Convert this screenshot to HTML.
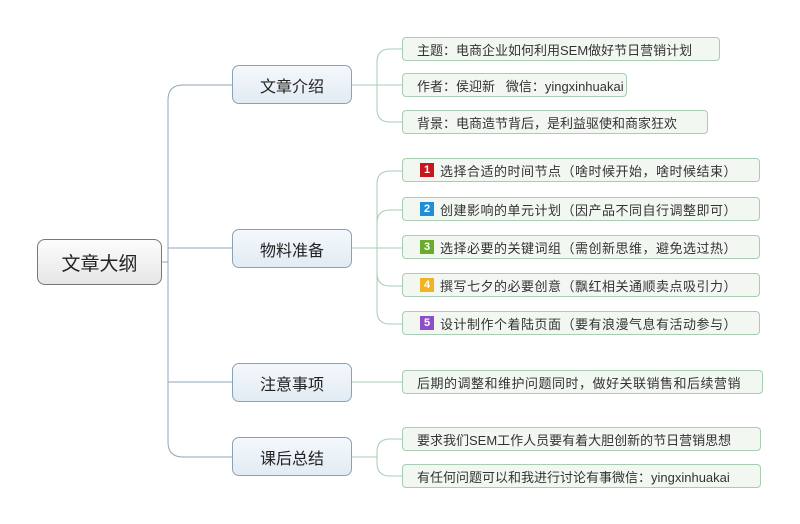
<!DOCTYPE html>
<html><head><meta charset="utf-8"><style>
body{margin:0;width:800px;height:524px;background:#fff;position:relative;overflow:hidden;font-family:"Liberation Sans","Noto Sans CJK SC",sans-serif;}
.b{position:absolute;box-sizing:border-box;display:flex;align-items:center;white-space:nowrap;}
.root{left:37px;top:239px;width:125px;height:46px;border:1px solid #777;border-radius:8px;background:linear-gradient(#fdfdfd,#e6e6e6);justify-content:center;font-size:19px;color:#222;}
.l1{left:232px;width:120px;height:39px;border:1px solid #8aa2b8;border-radius:7px;background:linear-gradient(#f4f8fc,#e2ebf3);justify-content:center;font-size:16px;color:#222;}
.lf{left:402px;height:24px;border:1px solid #a9cdb2;border-radius:4px;background:#f2f7f2;padding-left:14px;font-size:13px;color:#333;}
.w{letter-spacing:0.5px;}
.n{display:inline-block;width:14px;height:14px;color:#fff;font-size:11px;font-weight:bold;text-align:center;line-height:14px;margin-right:6px;margin-left:3px;letter-spacing:0;}
</style></head><body>
<svg width="800" height="524" style="position:absolute;left:0;top:0" fill="none" stroke="#8fa6b8" stroke-width="1">
<path d="M162 262 H168"/>
<path d="M232 85 H183 Q168 85 168 100 V442 Q168 457 183 457 H232"/>
<path d="M168 248 H232"/>
<path d="M168 382 H232"/>
<g stroke="#a9cdb2">
<path d="M352 85 H377"/>
<path d="M402 49 H390 Q377 49 377 62 V109 Q377 122 390 122 H402"/>
<path d="M377 85 H402"/>
<path d="M352 248 H377"/>
<path d="M402 171 H390 Q377 171 377 184 V311 Q377 324 390 324 H402"/>
<path d="M402 210 H390 Q377 210 377 223"/>
<path d="M377 248 H402"/>
<path d="M377 273 Q377 286 390 286 H402"/>
<path d="M352 382 H402"/>
<path d="M352 457 H377"/>
<path d="M402 439 H390 Q377 439 377 452 V463 Q377 476 390 476 H402"/>
</g>
</svg>
<div class="b root">文章大纲</div>
<div class="b l1" style="top:65px">文章介绍</div>
<div class="b l1" style="top:229px">物料准备</div>
<div class="b l1" style="top:363px">注意事项</div>
<div class="b l1" style="top:437px">课后总结</div>
<div class="b lf" style="top:37px;width:318px">主题：电商企业如何利用SEM做好节日营销计划</div>
<div class="b lf" style="top:73px;width:225px">作者：侯迎新&nbsp;&nbsp;&nbsp;微信：yingxinhuakai</div>
<div class="b lf" style="top:110px;width:306px">背景：电商造节背后，是利益驱使和商家狂欢</div>
<div class="b lf w" style="top:158px;width:358px"><span class="n" style="background:#c8161d">1</span>选择合适的时间节点（啥时候开始，啥时候结束）</div>
<div class="b lf w" style="top:197px;width:358px"><span class="n" style="background:#1e8fd6">2</span>创建影响的单元计划（因产品不同自行调整即可）</div>
<div class="b lf w" style="top:235px;width:358px"><span class="n" style="background:#6aab2a">3</span>选择必要的关键词组（需创新思维，避免选过热）</div>
<div class="b lf w" style="top:273px;width:358px"><span class="n" style="background:#f0b323">4</span>撰写七夕的必要创意（飘红相关通顺卖点吸引力）</div>
<div class="b lf w" style="top:311px;width:358px"><span class="n" style="background:#8c4fc9">5</span>设计制作个着陆页面（要有浪漫气息有活动参与）</div>
<div class="b lf w" style="top:370px;width:361px">后期的调整和维护问题同时，做好关联销售和后续营销</div>
<div class="b lf" style="top:427px;width:359px">要求我们SEM工作人员要有着大胆创新的节日营销思想</div>
<div class="b lf" style="top:464px;width:359px">有任何问题可以和我进行讨论有事微信：yingxinhuakai</div>
</body></html>
